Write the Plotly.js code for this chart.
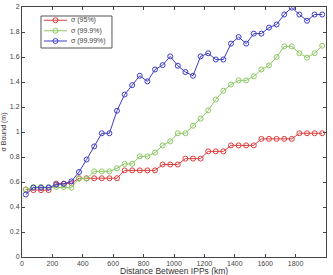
<!DOCTYPE html>
<html><head><meta charset="utf-8">
<script src="https://cdn.plot.ly/plotly-3.0.1.min.js"></script>
<style>html,body{margin:0;padding:0;background:#fff}#c{width:333px;height:275px}</style>
</head><body><div id="c"></div>
<script>
var distance = [25,75,125,175,225,275,325,375,425,475,525,575,625,675,725,775,825,875,925,975,1025,1075,1125,1175,1225,1275,1325,1375,1425,1475,1525,1575,1625,1675,1725,1775,1825,1875,1925,1975];
var sigma95 = [0.54,0.535,0.535,0.535,0.587,0.587,0.59,0.63,0.63,0.63,0.63,0.63,0.63,0.693,0.693,0.693,0.693,0.693,0.74,0.74,0.74,0.787,0.787,0.787,0.845,0.845,0.845,0.893,0.893,0.893,0.893,0.945,0.945,0.945,0.945,0.945,0.99,0.99,0.99,0.99];
var sigma999 = [0.54,0.56,0.56,0.56,0.56,0.56,0.555,0.627,0.627,0.685,0.685,0.685,0.71,0.745,0.745,0.805,0.805,0.835,0.893,0.925,0.99,0.99,1.05,1.107,1.173,1.26,1.33,1.38,1.413,1.413,1.445,1.50,1.533,1.60,1.685,1.685,1.63,1.595,1.63,1.69];
var sigma9999 = [0.50,0.555,0.555,0.555,0.58,0.585,0.605,0.68,0.78,0.885,0.99,0.99,1.17,1.30,1.375,1.45,1.405,1.50,1.535,1.605,1.53,1.48,1.45,1.605,1.63,1.58,1.58,1.707,1.76,1.707,1.787,1.787,1.835,1.86,1.94,1.995,1.94,1.89,1.94,1.94];
var seriesNames = ['σ (95%)','σ (99.9%)','σ (99.99%)'];
var xTicks = [0,200,400,600,800,1000,1200,1400,1600,1800,2000];
var yTicks = [0,0.2,0.4,0.6,0.8,1,1.2,1.4,1.6,1.8,2];
var xTitle = 'Distance Between IPPs (km)';
var yTitle = 'σ Bound (m)';

var colors = ['rgb(220,60,60)','rgb(140,200,100)','rgb(60,60,200)'];
var ys = [sigma95, sigma999, sigma9999];
var traces = ys.map(function(y,i){
  return {x: distance, y: y, name: seriesNames[i], type:'scatter', mode:'lines+markers', showlegend:false,
    line:{color:colors[i], width:1},
    marker:{symbol:'circle-open', size:5, color:colors[i], line:{width:1, color:colors[i]}}};
});

// compact legend (MATLAB style) built from the series names/colours
var font = 'Liberation Sans, Arial';
var shapes = [{type:'rect', xref:'paper', yref:'paper', x0:0.0625, x1:0.296, y0:0.836, y1:0.964,
  line:{color:'#555', width:1}, fillcolor:'#fff', layer:'above'}];
var annotations = [];
var rowY = [0.947, 0.905, 0.864];
seriesNames.forEach(function(n,i){
  shapes.push({type:'line', xref:'paper', yref:'paper', x0:0.072, x1:0.148, y0:rowY[i], y1:rowY[i],
    line:{color:colors[i], width:1}, layer:'above'});
  shapes.push({type:'circle', xref:'paper', yref:'paper', xsizemode:'pixel', ysizemode:'pixel',
    xanchor:0.110, yanchor:rowY[i], x0:-2.5, x1:2.5, y0:-2.5, y1:2.5,
    line:{color:colors[i], width:1}, fillcolor:'rgba(0,0,0,0)', layer:'above'});
  annotations.push({xref:'paper', yref:'paper', x:0.153, y:rowY[i], xanchor:'left', yanchor:'middle',
    text:n, showarrow:false, font:{family:font, size:7, color:'#444'}});
});
// x-axis title placed just below the tick labels (as in the reference, slightly cropped)
annotations.push({xref:'paper', yref:'paper', x:0.5, y:-0.057, xanchor:'center', yanchor:'middle',
  text:xTitle, showarrow:false, font:{family:font, size:8.5, color:'#333'}});

var axisCommon = {showgrid:false, zeroline:false, showline:true, mirror:'ticks', linecolor:'#444', linewidth:1,
  ticks:'inside', ticklen:3, tickcolor:'#444', tickfont:{family:font, size:7, color:'#444'}};
var layout = {
  width:333, height:275, margin:{l:22, r:7, t:7, b:18},
  paper_bgcolor:'#fff', plot_bgcolor:'#fff', showlegend:false,
  xaxis: Object.assign({}, axisCommon, {range:[0,2000], tickvals:xTicks, ticktext:xTicks.map(String)}),
  yaxis: Object.assign({}, axisCommon, {range:[0,2], tickvals:yTicks, ticktext:yTicks.map(String),
    title:{text:yTitle, font:{family:font, size:7, color:'#333'}, standoff:2}}),
  shapes: shapes, annotations: annotations
};
Plotly.newPlot('c', traces, layout, {displayModeBar:false, staticPlot:true});
</script></body></html>
